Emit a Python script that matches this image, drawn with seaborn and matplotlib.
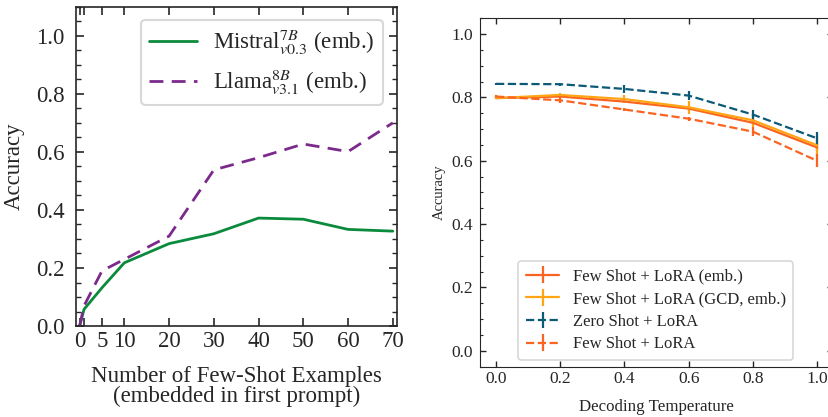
import numpy as np
import seaborn as sns
import matplotlib.pyplot as plt
from matplotlib.ticker import MultipleLocator

# left panel: accuracy vs number of few-shot examples
shots = [0, 1, 5, 10, 20, 30, 40, 50, 60, 70]
mistral_acc = [0.0, 0.058, 0.132, 0.218, 0.284, 0.318, 0.372, 0.368, 0.333, 0.327]
llama_acc = [0.0, 0.07, 0.19, 0.23, 0.31, 0.538, 0.58, 0.627, 0.601, 0.70]
shot_ticks = [0, 1, 5, 10, 20, 30, 40, 50, 60, 70]
shot_ticklabels = ['0', '', '5', '10', '20', '30', '40', '50', '60', '70']

# right panel: accuracy vs decoding temperature
temps = [0.0, 0.2, 0.4, 0.6, 0.8, 1.0]
fs_lora_emb = [0.798, 0.803, 0.787, 0.765, 0.720, 0.642]
fs_lora_emb_err = [0.004, 0.006, 0.006, 0.007, 0.008, 0.010]
fs_lora_gcd = [0.798, 0.808, 0.795, 0.769, 0.728, 0.649]
fs_lora_gcd_err = [0.004, 0.006, 0.013, 0.020, 0.020, 0.028]
zs_lora = [0.843, 0.842, 0.827, 0.806, 0.746, 0.671]
zs_lora_err = [0.003, 0.005, 0.013, 0.013, 0.016, 0.020]
fs_lora = [0.803, 0.791, 0.762, 0.733, 0.692, 0.600]
fs_lora_err = [0.004, 0.008, 0.006, 0.006, 0.015, 0.020]

sns.set_style('ticks')
plt.rcParams['font.family'] = ['Liberation Serif', 'DejaVu Serif']
plt.rcParams['mathtext.fontset'] = 'stix'
plt.rcParams['xtick.direction'] = 'in'
plt.rcParams['ytick.direction'] = 'in'
plt.rcParams['xtick.top'] = True
plt.rcParams['ytick.right'] = True

fig = plt.figure(figsize=(8.29, 4.17), dpi=100)
ax1 = fig.add_axes([0.0917, 0.218, 0.387, 0.766])
ax2 = fig.add_axes([0.579, 0.121, 0.426, 0.835])

# ---- left
sns.lineplot(x=shots, y=mistral_acc, ax=ax1, color='#0a8a3c', lw=2,
             label=r'Mistral$^{7B}_{v0.3}$ (emb.)')
sns.lineplot(x=shots, y=llama_acc, ax=ax1, color='#7b2a8c', lw=2,
             linestyle=(0, (5, 3)), label=r'Llama$^{8B}_{v3.1}$ (emb.)')
ax1.set_xlim(-0.8, 70.9)
ax1.set_ylim(0, 1.1)
ax1.set_xticks(shot_ticks)
ax1.set_xticklabels(shot_ticklabels)
ax1.yaxis.set_major_locator(MultipleLocator(0.2))
ax1.yaxis.set_minor_locator(MultipleLocator(0.05))
ax1.tick_params(which='major', length=6, width=1.2, labelsize=16.5)
ax1.tick_params(axis='y', which='major', pad=8)
ax1.tick_params(which='minor', length=3.5, width=1.0)
ax1.set_xlabel('Number of Few-Shot Examples\n(embedded in first prompt)', fontsize=16.5,
               linespacing=0.96, labelpad=10)
ax1.set_ylabel('Accuracy', fontsize=16.5, labelpad=8)
for s in ax1.spines.values():
    s.set_linewidth(1.2)
leg1 = ax1.legend(loc='upper right', fontsize=16.5, handlelength=2.1,
                  fancybox=True, framealpha=1, edgecolor='#d8d8d8',
                  borderpad=0.35, labelspacing=0.45, handletextpad=0.7,
                  bbox_to_anchor=(0.992, 0.995))
leg1.get_frame().set_linewidth(1.5)

# ---- right
ax2.errorbar(temps, fs_lora_emb, yerr=fs_lora_emb_err, color='#fb6420', lw=1.6,
             label='Few Shot + LoRA (emb.)')
ax2.errorbar(temps, fs_lora_gcd, yerr=fs_lora_gcd_err, color='#ffa514', lw=1.6,
             label='Few Shot + LoRA (GCD, emb.)')
ax2.errorbar(temps, zs_lora, yerr=zs_lora_err, color='#0b5a78', lw=1.6,
             linestyle='--', label='Zero Shot + LoRA')
ax2.errorbar(temps, fs_lora, yerr=fs_lora_err, color='#fb6420', lw=1.6,
             linestyle='--', label='Few Shot + LoRA')
ax2.set_xlim(-0.05, 1.05)
ax2.set_ylim(-0.05, 1.05)
ax2.xaxis.set_major_locator(MultipleLocator(0.2))
ax2.yaxis.set_major_locator(MultipleLocator(0.2))
ax2.yaxis.set_minor_locator(MultipleLocator(0.05))
ax2.tick_params(which='major', length=4.5, width=1.0, labelsize=12.5)
ax2.tick_params(axis='y', which='major', pad=5)
ax2.tick_params(which='minor', length=2.5, width=0.8)
ax2.set_xlabel('Decoding Temperature', fontsize=12.2, labelpad=8)
ax2.set_ylabel('Accuracy', fontsize=10.5)
leg2 = ax2.legend(loc='lower left', fontsize=12, handlelength=2.0,
                  fancybox=True, framealpha=1, edgecolor='#d8d8d8',
                  borderpad=0.45, labelspacing=0.4, handletextpad=0.8,
                  bbox_to_anchor=(0.085, -0.005))
leg2.get_frame().set_linewidth(1.2)

fig.savefig('out.png', dpi=100)
